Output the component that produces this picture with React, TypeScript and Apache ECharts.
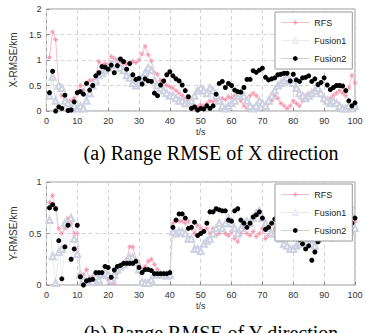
import React, { useEffect, useRef } from "react";
import * as echarts from "echarts";

const T: number[] = Array.from({ length: 100 }, (_, i) => i + 1);

const RFS_X = [1.05,1.55,1.4,0.5,0.3,0.25,0.2,0.2,0.25,0.35,
0.5,0.4,0.55,0.6,0.6,0.7,0.97,0.9,0.93,0.9,
1.07,1.03,1.0,0.97,0.93,0.92,0.95,0.97,0.95,1.0,
1.12,1.27,1.1,0.98,0.75,0.72,0.6,0.55,0.5,0.48,
0.45,0.4,0.35,0.3,0.25,0.2,0.1,0.05,0.08,0.12,
0.1,0.15,0.2,0.18,0.22,0.2,0.25,0.22,0.28,0.25,
0.3,0.35,0.2,0.1,0.05,0.3,0.35,0.3,0.2,0.1,
0.08,0.15,0.2,0.3,0.25,0.15,0.1,0.05,0.1,0.2,
0.15,0.1,0.2,0.3,0.35,0.3,0.4,0.35,0.3,0.2,
0.15,0.25,0.3,0.35,0.4,0.35,0.3,0.45,0.7,0.55];

const FUSION1_X = [0.3,0.67,0.2,0.5,0.45,0.2,0.15,0.05,0.1,0.05,
0.1,0.05,0.2,0.35,0.5,0.6,0.7,0.75,0.8,0.85,
0.9,0.95,0.9,0.85,0.8,0.7,0.65,0.55,0.5,0.55,
0.65,0.75,0.85,0.8,0.6,0.5,0.45,0.4,0.35,0.3,
0.3,0.25,0.2,0.2,0.15,0.15,0.2,0.3,0.4,0.45,
0.4,0.35,0.45,0.4,0.3,0.2,0.1,0.05,0.1,0.15,
0.2,0.3,0.35,0.3,0.2,0.1,0.05,0.1,0.2,0.15,
0.1,0.2,0.3,0.4,0.5,0.55,0.6,0.65,0.6,0.55,
0.45,0.35,0.3,0.25,0.3,0.35,0.4,0.45,0.35,0.25,
0.2,0.15,0.2,0.15,0.1,0.05,0.05,0.1,0.05,0.1];

const FUSION2_X = [0.36,0.78,0,0.08,0.05,0.31,0.01,0.02,0.18,0.36,
0.38,0.33,0.54,0.41,0.5,0.69,0.75,0.87,0.86,0.82,
0.9,0.75,0.89,1.02,0.97,0.82,0.93,0.71,0.62,0.64,
0.53,0.63,0.59,0.58,0.35,0.3,0.51,0.59,0.71,0.77,
0.69,0.63,0.59,0.51,0.4,0.28,0.05,0.08,0.02,0.05,
0.04,0.1,0.05,0.1,0.33,0.54,0.58,0.46,0.54,0.5,
0.41,0.38,0.37,0.46,0.62,0.62,0.79,0.76,0.8,0.84,
0.66,0.61,0.63,0.65,0.71,0.72,0.74,0.74,0.59,0.72,
0.61,0.58,0.65,0.66,0.69,0.58,0.63,0.52,0.56,0.65,
0.51,0.42,0.46,0.5,0.5,0.49,0.4,0.2,0.1,0.16];

const RFS_Y = [0.8,0.87,0.75,0.55,0.5,0.55,0.65,0.6,0.5,0.5,
0.1,0.1,0.15,0.05,0.08,0.05,0.08,0.1,0.1,0.05,
0.02,0.02,0.12,0.18,0.2,0.25,0.37,0.37,0.25,0.2,
0.15,0.18,0.23,0.25,0.2,0.15,0.12,0.1,0.08,0.08,
0.6,0.63,0.62,0.62,0.6,0.62,0.55,0.5,0.58,0.55,
0.52,0.55,0.5,0.55,0.48,0.5,0.55,0.5,0.48,0.52,
0.45,0.42,0.5,0.55,0.5,0.48,0.52,0.47,0.5,0.55,
0.45,0.48,0.5,0.55,0.6,0.58,0.55,0.6,0.5,0.48,
0.5,0.52,0.5,0.48,0.5,0.55,0.6,0.58,0.55,0.6,
0.58,0.55,0.6,0.55,0.58,0.6,0.65,0.7,0.75,0.62];

const FUSION1_Y = [0.63,0.28,0.02,0.32,0.35,0.6,0.6,0.65,0.45,0.3,
0.1,0.05,0.03,0.05,0.03,0.08,0.05,0.1,0.12,0.1,
0.05,0.1,0.15,0.18,0.2,0.22,0.27,0.27,0.22,0.15,
0.03,0.02,0.02,0.05,0.1,0.1,0.1,0.1,0.09,0.1,
0.52,0.5,0.52,0.52,0.5,0.45,0.45,0.35,0.35,0.33,
0.4,0.43,0.45,0.5,0.55,0.6,0.55,0.6,0.65,0.6,
0.55,0.5,0.55,0.6,0.62,0.6,0.65,0.7,0.72,0.65,
0.6,0.55,0.5,0.5,0.48,0.45,0.4,0.38,0.35,0.35,
0.38,0.4,0.42,0.45,0.47,0.4,0.38,0.45,0.5,0.55,
0.58,0.55,0.5,0.5,0.48,0.52,0.55,0.5,0.52,0.55];

const FUSION2_Y = [0.75,0.78,0.74,0.43,0.06,0.37,0.58,0.25,0.35,0.58,
0.08,0,0.04,0.05,0.055,0.12,0.12,0.12,0.18,0.17,
0.075,0.146,0.18,0.19,0.21,0.21,0.21,0.21,0.23,0.17,
0.12,0.15,0.15,0.14,0.11,0.11,0.11,0.11,0.11,0.12,
0.56,0.63,0.69,0.69,0.65,0.55,0.56,0.61,0.48,0.5,
0.52,0.6,0.71,0.71,0.74,0.73,0.72,0.72,0.63,0.62,
0.72,0.74,0.63,0.6,0.56,0.6,0.66,0.68,0.71,0.65,
0.54,0.56,0.6,0.64,0.68,0.7,0.66,0.62,0.5,0.45,
0.45,0.44,0.4,0.35,0.38,0.24,0.32,0.42,0.55,0.6,
0.55,0.45,0.45,0.47,0.52,0.52,0.51,0.57,0.6,0.65];

const X_TICKS = [0, 10, 20, 30, 40, 50, 60, 70, 80, 90, 100];
const SERIES_NAMES = ["RFS", "Fusion1", "Fusion2"];
const CAPTIONS = ["(a) Range RMSE of X direction", "(b) Range RMSE of Y direction"];
const Y_NAMES = ["X-RMSE/km", "Y-RMSE/km"];

const PINK = "#f291a8";
const BLUEGRAY = "#cdd1e1";
const BLUELINE = "#dadde8";
const ASTERISK = "path://M5,0L5,10M0,5L10,5M1.6,1.6L8.4,8.4M8.4,1.6L1.6,8.4";

const pair = (vals: number[]) => T.map((t, i) => [t, vals[i]]);

export default function App() {
  const ref = useRef<HTMLDivElement>(null);
  useEffect(() => {
    if (!ref.current) return;
    const chart = echarts.init(ref.current, null, { renderer: "svg" });
    const font = "Liberation Sans, Arial, sans-serif";
    const grids = [
      { left: 38, top: 9, width: 317, height: 102, show: true, borderColor: "#9a9a9a", borderWidth: 1 },
      { left: 38, top: 182, width: 317, height: 103, show: true, borderColor: "#9a9a9a", borderWidth: 1 },
    ];
    const xAxis = [0, 1].map((g) => ({
      type: "value",
      gridIndex: g,
      min: X_TICKS[0],
      max: X_TICKS[X_TICKS.length - 1],
      interval: 10,
      name: "t/s",
      nameLocation: "middle",
      nameGap: 16,
      nameTextStyle: { fontSize: 9, color: "#333", fontFamily: font },
      axisLine: { show: false },
      axisTick: { show: true, inside: true, length: 3, lineStyle: { color: "#888" } },
      axisLabel: { fontSize: 9, color: "#333", margin: 5, fontFamily: font },
      splitLine: { show: true, lineStyle: { color: "#d4d4d4", type: [4, 3], width: 1 } },
    }));
    const yAxis = [0, 1].map((g) => ({
      type: "value",
      gridIndex: g,
      min: 0,
      max: g === 0 ? 2 : 1,
      interval: 0.5,
      name: Y_NAMES[g],
      nameLocation: "middle",
      nameGap: 23,
      nameTextStyle: { fontSize: 10, color: "#333", fontFamily: font },
      axisLine: { show: false },
      axisTick: { show: true, inside: true, length: 3, lineStyle: { color: "#888" } },
      axisLabel: { fontSize: 9, color: "#333", margin: 5, fontFamily: font },
      splitLine: { show: true, lineStyle: { color: "#d4d4d4", type: [4, 3], width: 1 } },
    }));
    const mk = (g: number, vals: number[][]) => [
      {
        name: SERIES_NAMES[0],
        type: "line",
        xAxisIndex: g,
        yAxisIndex: g,
        data: pair(vals[0]),
        symbol: ASTERISK,
        symbolSize: 5,
        itemStyle: { color: "rgba(255,255,255,0)", borderColor: PINK, borderWidth: 0.8 },
        lineStyle: { color: PINK, width: 0.6 },
        z: 1,
      },
      {
        name: SERIES_NAMES[1],
        type: "line",
        xAxisIndex: g,
        yAxisIndex: g,
        data: pair(vals[1]),
        symbol: "emptyTriangle",
        symbolSize: 6,
        itemStyle: { color: BLUEGRAY, borderWidth: 0.6 },
        lineStyle: { color: BLUELINE, width: 0.6 },
        z: 2,
      },
      {
        name: SERIES_NAMES[2],
        type: "line",
        xAxisIndex: g,
        yAxisIndex: g,
        data: pair(vals[2]),
        symbol: "circle",
        symbolSize: 5,
        itemStyle: { color: "#000" },
        lineStyle: { color: "#dadada", width: 0.5 },
        z: 3,
      },
    ];
    const legendData = [
      {
        name: SERIES_NAMES[0],
        itemStyle: { color: "rgba(255,255,255,0)", borderColor: PINK, borderWidth: 0.7 },
        lineStyle: { color: PINK, width: 0.6 },
      },
      {
        name: SERIES_NAMES[1],
        itemStyle: { color: "#eceef4", borderColor: BLUEGRAY, borderWidth: 0.7 },
        lineStyle: { color: BLUELINE, width: 0.6 },
      },
      {
        name: SERIES_NAMES[2],
        itemStyle: { color: "#000" },
        lineStyle: { color: "#b0b0b0", width: 0.6 },
      },
    ];
    const legendBase = {
      orient: "vertical",
      left: 275,
      itemWidth: 28,
      itemHeight: 6,
      itemGap: 9,
      padding: [6, 6, 6, 6],
      borderColor: "#9a9a9a",
      borderWidth: 1,
      backgroundColor: "#fff",
      selectedMode: false,
      z: 20,
      textStyle: { fontSize: 9, color: "#222", fontFamily: font },
      data: legendData,
    };
    chart.setOption({
      animation: false,
      backgroundColor: "#fff",
      grid: grids,
      xAxis,
      yAxis,
      legend: [
        { ...legendBase, top: 12 },
        { ...legendBase, top: 184 },
      ],
      series: [
        ...mk(0, [RFS_X, FUSION1_X, FUSION2_X]),
        ...mk(1, [RFS_Y, FUSION1_Y, FUSION2_Y]),
      ],
      graphic: [
        {
          type: "text",
          x: 211,
          y: 153,
          style: {
            text: CAPTIONS[0],
            fill: "#000",
            font: "20px 'Liberation Serif', 'Times New Roman', serif",
            align: "center",
            verticalAlign: "middle",
          },
        },
        {
          type: "text",
          x: 211,
          y: 333,
          style: {
            text: CAPTIONS[1],
            fill: "#000",
            font: "20px 'Liberation Serif', 'Times New Roman', serif",
            align: "center",
            verticalAlign: "middle",
          },
        },
      ],
    });
    return () => chart.dispose();
  }, []);
  return (
    <div
      ref={ref}
      style={{ position: "absolute", left: 0, top: 0, width: 366, height: 333, background: "#fff" }}
    />
  );
}
